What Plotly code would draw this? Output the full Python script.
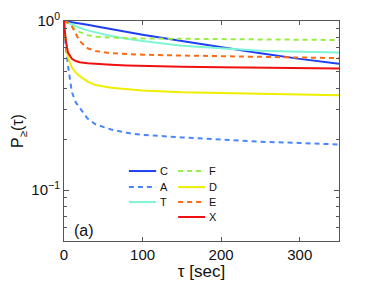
import plotly.graph_objects as go
import math

# ---------------- data ----------------
tau = [0, 2, 5, 10, 15, 20, 30, 40, 60, 80, 100, 150, 200, 250, 300, 350]

C = [1.0, 0.997, 0.992, 0.984, 0.976, 0.968, 0.95, 0.93, 0.893, 0.86, 0.83, 0.762, 0.70, 0.645, 0.597, 0.558]
A = [1.0, 0.72, 0.55, 0.38, 0.33, 0.305, 0.265, 0.245, 0.228, 0.218, 0.212, 0.205, 0.198, 0.193, 0.19, 0.186]
T = [1.0, 0.99, 0.975, 0.95, 0.93, 0.912, 0.88, 0.855, 0.815, 0.785, 0.762, 0.715, 0.688, 0.668, 0.658, 0.652]
F = [1.0, 0.99, 0.97, 0.935, 0.89, 0.86, 0.825, 0.808, 0.795, 0.79, 0.788, 0.785, 0.782, 0.778, 0.775, 0.772]
D = [1.0, 0.78, 0.61, 0.53, 0.495, 0.472, 0.438, 0.418, 0.403, 0.394, 0.388, 0.379, 0.374, 0.37, 0.367, 0.364]
E = [1.0, 0.99, 0.975, 0.93, 0.84, 0.76, 0.69, 0.665, 0.645, 0.637, 0.632, 0.625, 0.618, 0.612, 0.607, 0.603]
X = [1.0, 0.78, 0.65, 0.598, 0.58, 0.571, 0.562, 0.557, 0.551, 0.546, 0.542, 0.537, 0.533, 0.53, 0.527, 0.524]

names = ["C", "A", "T", "F", "D", "E", "X"]
values = [C, A, T, F, D, E, X]
colors = ["#1f3ff5", "#4a86ff", "#7ff5d4", "#98ee44", "#eeee00", "#ff6a12", "#f01010"]
dashes = ["solid", "5px,4px", "solid", "5px,4px", "solid", "5px,4px", "solid"]

xticks = [0, 100, 200, 300]
yticks = [0.1, 1]
yticklabels = ["10<sup>\u22121</sup>", "10<sup>0</sup>"]
yminor = [0.06, 0.07, 0.08, 0.09, 0.2, 0.3, 0.4, 0.5, 0.6, 0.7, 0.8, 0.9]

FONT = "Liberation Sans, Arial, sans-serif"
AX = "#555555"

fig = go.Figure()
for n, v, c, d in zip(names, values, colors, dashes):
    fig.add_trace(go.Scatter(x=tau, y=v, mode="lines", name=n,
                             line=dict(color=c, width=2, dash=d),
                             showlegend=False))

# manual two-column legend (paper coordinates)
col_x = [(0.236, 0.335), (0.415, 0.513)]
row_y = [0.318, 0.245, 0.177, 0.109]
layout_pos = {"C": (0, 0), "A": (0, 1), "T": (0, 2),
              "F": (1, 0), "D": (1, 1), "E": (1, 2), "X": (1, 3)}
shapes = []
annotations = []
for n, c, d in zip(names, colors, dashes):
    ci, ri = layout_pos[n]
    x0, x1 = col_x[ci]
    y = row_y[ri]
    shapes.append(dict(type="line", xref="paper", yref="paper",
                       x0=x0, x1=x1, y0=y, y1=y,
                       line=dict(color=c, width=2, dash=d)))
    annotations.append(dict(xref="paper", yref="paper", x=x1 + 0.006, y=y,
                            text=n, showarrow=False, xanchor="left",
                            yanchor="middle",
                            font=dict(family=FONT, size=11, color="#111")))

annotations.append(dict(xref="paper", yref="paper", x=0.03, y=0.05,
                        text="(a)", showarrow=False, xanchor="left",
                        yanchor="middle",
                        font=dict(family=FONT, size=16, color="#111")))

# page body has an 8px margin, so the figure is sized to end at the window edge
fig.update_layout(
    width=366, height=273,
    margin=dict(l=56, r=35, t=13, b=40, autoexpand=False),
    paper_bgcolor="white", plot_bgcolor="white",
    font=dict(family=FONT, size=15, color="#111"),
    shapes=shapes, annotations=annotations,
    xaxis=dict(range=[0, 350], tickvals=xticks, ticks="inside", ticklen=4,
               tickcolor=AX, showline=True, linecolor=AX, linewidth=1,
               mirror="ticks", showgrid=False, zeroline=False,
               automargin=False, tickfont=dict(size=15),
               title=dict(text="\u03c4 [sec]", font=dict(size=17), standoff=2)),
    yaxis=dict(type="log", range=[math.log10(0.05), 0],
               tickvals=yticks, ticktext=yticklabels,
               ticks="inside", ticklen=5, tickcolor=AX,
               minor=dict(tickvals=yminor, ticks="inside", ticklen=3, tickcolor=AX),
               showline=True, linecolor=AX, linewidth=1, mirror="ticks",
               showgrid=False, zeroline=False, automargin=False,
               tickfont=dict(size=15),
               title=dict(text="P<sub>\u2265</sub>(\u03c4)", font=dict(size=16), standoff=3)),
)

fig.write_html("out.html")
